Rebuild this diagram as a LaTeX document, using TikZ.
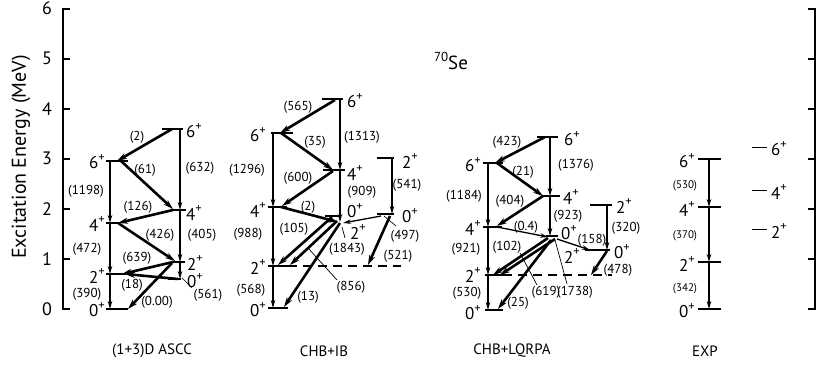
\documentclass[tikz,border=0pt]{standalone}
\usepackage{fontspec}
\setmainfont{PT Sans}
\usetikzlibrary{arrows.meta}
\newcommand\lvtxt[1]{#1\raisebox{0.42em}{\fontsize{12.5}{12.5}\selectfont +}}
\begin{document}
\begin{tikzpicture}[x=1pt,y=-1pt,
  lvl/.style={line width=1.4pt},
  dlvl/.style={line width=1.4pt, dash pattern=on 9pt off 6pt},
  vt/.style={line width=1.8pt, -{Stealth[length=8pt,width=4.5pt]}},
  dg/.style={line width=2.6pt, -{Stealth[length=10pt,width=6pt]}},
  md/.style={line width=1.3pt, -{Stealth[length=8pt,width=4.5pt]}},
  ld/.style={line width=0.7pt},
  lab/.style={font=\fontsize{13}{13}\selectfont, inner sep=0pt},
  elab/.style={font=\fontsize{11}{11}\selectfont, inner sep=0pt},
  st/.style={font=\fontsize{17}{17}\selectfont, inner sep=0pt},
  stR/.style={st, anchor=west},
  stL/.style={st, anchor=east},
  ax/.style={line width=2pt},
  axn/.style={font=\fontsize{18}{18}\selectfont, inner sep=0pt},
  bl/.style={font=\fontsize{15}{15}\selectfont, inner sep=0pt}
]
\useasboundingbox (0,0) rectangle (817,370);

% ---------- axes ----------
\path (70,8.5) coordinate (la6) (63,8.5) coordinate (lb6) (63,309) coordinate (lb0) (70,309) coordinate (la0);
\draw[ax] (la6) -- (lb6) -- (lb0) -- (la0);
\path (808,8.5) coordinate (ra6) (815,8.5) coordinate (rb6) (815,309) coordinate (rb0) (808,309) coordinate (ra0);
\draw[ax] (ra6) -- (rb6) -- (rb0) -- (ra0);
\foreach \e in {1,...,5}{
  \path (63,309-50.08*\e) coordinate (lt\e) (70,309-50.08*\e) coordinate (ltt\e)
        (815,309-50.08*\e) coordinate (rt\e) (808,309-50.08*\e) coordinate (rtt\e);
  \draw[ax] (lt\e) -- (ltt\e);
  \draw[ax] (rt\e) -- (rtt\e);
}
\foreach \e in {0,...,6}{
  \node[axn] (n\e) at (47,309-50.08*\e) {\e};
}
\node[font=\fontsize{20}{20}\selectfont, rotate=90, inner sep=0pt] (ytitle) at (21,157) {Excitation Energy (MeV)};
\node[font=\fontsize{19}{19}\selectfont, inner sep=0pt] (title) at (451,61) {\raisebox{0.45em}{\fontsize{13}{13}\selectfont 70}Se};

% ---------- panel 1: (1+3)D ASCC ----------
\path (162,129) coordinate (a6Rl) (183,129) coordinate (a6Rr)
      (106,161) coordinate (a6Ll) (128,161) coordinate (a6Lr)
      (170,210) coordinate (a4Rl) (186,210) coordinate (a4Rr)
      (106,223) coordinate (a4Ll) (120,223) coordinate (a4Lr)
      (172,262) coordinate (a2Rl) (185,262) coordinate (a2Rr)
      (168,279) coordinate (a0Rl) (181,279) coordinate (a0Rr)
      (106,274) coordinate (a2Ll) (126,274) coordinate (a2Lr)
      (106,309) coordinate (a0l)  (128,309) coordinate (a0r);
\foreach \p in {a6R,a6L,a4R,a4L,a2R,a0R,a2L,a0}{\draw[lvl] (\p l) -- (\p r);}
\path (180,129) coordinate (a6Rc) (180,210) coordinate (a4Rc) (180,262) coordinate (a2Rc) (180,279) coordinate (a0Rc)
      (110,161) coordinate (a6Lc) (110,223) coordinate (a4Lc) (110,274) coordinate (a2Lc) (110,309) coordinate (a0c);
\draw[vt] (a6Rc) -- (a4Rc);
\draw[vt] (a4Rc) -- (a2Rc);
\draw[vt] (a2Rc) -- (a0Rc);
\draw[vt] (a6Lc) -- (a4Lc);
\draw[vt] (a4Lc) -- (a2Lc);
\draw[vt] (a2Lc) -- (a0c);
\path (172,129) coordinate (p1a) (117,161) coordinate (p1b)
      (121,161) coordinate (p2a) (173,209) coordinate (p2b)
      (173,210) coordinate (p3a) (118,223) coordinate (p3b)
      (118,223) coordinate (p4a) (175,261) coordinate (p4b)
      (173,262) coordinate (p5a) (122,274) coordinate (p5b)
      (178,279) coordinate (p6a) (125,274) coordinate (p6b)
      (172,263) coordinate (p7a) (128,309) coordinate (p7b)
      (182,278) coordinate (q1a) (192,288) coordinate (q1b);
\draw[dg] (p1a) -- (p1b);
\draw[dg] (p2a) -- (p2b);
\draw[dg] (p3a) -- (p3b);
\draw[dg] (p4a) -- (p4b);
\draw[dg] (p5a) -- (p5b);
\draw[dg] (p6a) -- (p6b);
\draw[dg] (p7a) -- (p7b);
\draw[ld] (q1a) -- (q1b);
\node[stR] (sa6R) at (186,131) {\lvtxt{6}};
\node[stR] (sa4R) at (186,213) {\lvtxt{4}};
\node[stR] (sa2R) at (187,263) {\lvtxt{2}};
\node[stR] (sa0R) at (187,281) {\lvtxt{0}};
\node[stL] (sa6L) at (105,162) {\lvtxt{6}};
\node[stL] (sa4L) at (105,224) {\lvtxt{4}};
\node[stL] (sa2L) at (105,276) {\lvtxt{2}};
\node[stL] (sa0L) at (105,310) {\lvtxt{0}};
\node[lab] (ta1) at (137,137) {(2)};
\node[lab] (ta2) at (145,170) {(61)};
\node[lab] (ta3) at (200,168) {(632)};
\node[lab] (ta4) at (86,191) {(1198)};
\node[lab] (ta5) at (138,207) {(126)};
\node[lab] (ta6) at (160,235) {(426)};
\node[lab] (ta7) at (202,235) {(405)};
\node[lab] (ta8) at (87,249) {(472)};
\node[lab] (ta9) at (137,258) {(639)};
\node[lab] (ta10) at (132,285) {(18)};
\node[lab] (ta11) at (87,294) {(390)};
\node[lab] (ta12) at (157,302) {(0.00)};
\node[lab] (ta13) at (208,295) {(561)};

% ---------- panel 2: CHB+IB ----------
\path (322,99) coordinate (b6Tl) (343,99) coordinate (b6Tr)
      (271,133) coordinate (b6Ll) (293,133) coordinate (b6Lr)
      (323,170) coordinate (b4Ml) (345,170) coordinate (b4Mr)
      (377,158) coordinate (b2Rl) (394,158) coordinate (b2Rr)
      (268,207) coordinate (b4Ll) (287,207) coordinate (b4Lr)
      (325,216) coordinate (b0Ml) (341,216) coordinate (b0Mr)
      (377,214) coordinate (b0Rl) (394,214) coordinate (b0Rr)
      (268,266) coordinate (b2Ll) (288,266) coordinate (b2Lr) (401,266) coordinate (b2Ld)
      (268,308) coordinate (b0l) (288,308) coordinate (b0r);
\foreach \p in {b6T,b6L,b4M,b2R,b4L,b0M,b0R,b2L,b0}{\draw[lvl] (\p l) -- (\p r);}
\draw[dlvl] (b2Lr) -- (b2Ld);
\path (340,99) coordinate (b1a) (340,170) coordinate (b1b) (340,222) coordinate (b1c)
      (273,133) coordinate (b2a) (273,207) coordinate (b2b) (273,266) coordinate (b2c) (273,308) coordinate (b2d)
      (392,158) coordinate (b3a) (392,214) coordinate (b3b);
\draw[vt] (b1a) -- (b1b);
\draw[vt] (b1b) -- (b1c);
\draw[vt] (b2a) -- (b2b);
\draw[vt] (b2b) -- (b2c);
\draw[vt] (b2c) -- (b2d);
\draw[vt] (b3a) -- (b3b);
\path (335,100) coordinate (r1a) (280,133) coordinate (r1b)
      (281,133) coordinate (r2a) (333,170) coordinate (r2b)
      (333,171) coordinate (r3a) (282,206) coordinate (r3b)
      (281,207) coordinate (r4a) (338,222) coordinate (r4b)
      (332,217) coordinate (r5a) (278,265) coordinate (r5b)
      (337,221) coordinate (r6a) (290,265) coordinate (r6b)
      (340,223) coordinate (r7a) (284,307) coordinate (r7b)
      (381,216) coordinate (r8a) (343,223) coordinate (r8b)
      (390,216) coordinate (r9a) (368,265) coordinate (r9b)
      (308,248) coordinate (s1a) (337,280) coordinate (s1b)
      (342,227) coordinate (s2a) (345,238) coordinate (s2b)
      (384,216) coordinate (s3a) (396,226) coordinate (s3b);
\draw[dg] (r1a) -- (r1b);
\draw[dg] (r2a) -- (r2b);
\draw[dg] (r3a) -- (r3b);
\draw[dg] (r4a) -- (r4b);
\draw[dg] (r5a) -- (r5b);
\draw[dg] (r6a) -- (r6b);
\draw[dg] (r7a) -- (r7b);
\draw[md] (r8a) -- (r8b);
\draw[dg] (r9a) -- (r9b);
\draw[ld] (s1a) -- (s1b);
\draw[ld] (s2a) -- (s2b);
\draw[ld] (s3a) -- (s3b);
\node[stR] (sb6T) at (347,101) {\lvtxt{6}};
\node[stR] (sb4M) at (347,173) {\lvtxt{4}};
\node[stR] (sb2R) at (402,161) {\lvtxt{2}};
\node[stR] (sb0M) at (347,211) {\lvtxt{0}};
\node[stR] (sb0R) at (402,216) {\lvtxt{0}};
\node[stR] (sb2M) at (350,232) {\lvtxt{2}};
\node[stL] (sb6L) at (266,135) {\lvtxt{6}};
\node[stL] (sb4L) at (266,210) {\lvtxt{4}};
\node[stL] (sb2L) at (266,267) {\lvtxt{2}};
\node[stL] (sb0L) at (266,310) {\lvtxt{0}};
\node[lab] (tb1) at (298,107) {(565)};
\node[lab] (tb2) at (362,137) {(1313)};
\node[lab] (tb3) at (315,142) {(35)};
\node[lab] (tb4) at (247,170) {(1296)};
\node[lab] (tb5) at (298,178) {(600)};
\node[lab] (tb6) at (362,192) {(909)};
\node[lab] (tb7) at (407,185) {(541)};
\node[lab] (tb8) at (308,207) {(2)};
\node[lab] (tb9) at (248,234) {(988)};
\node[lab] (tb10) at (294,229) {(105)};
\node[lab] (tb11) at (347,249) {(1843)};
\node[lab] (tb12) at (398,256) {(521)};
\node[lab] (tb13) at (351,287) {(856)};
\node[lab] (tb14) at (308,297) {(13)};
\node[lab] (tb15) at (251,290) {(568)};
\node[lab] (tb16) at (405,236) {(497)};

% ---------- panel 3: CHB+LQRPA ----------
\path (537,137) coordinate (c6Tl) (558,137) coordinate (c6Tr)
      (483,163) coordinate (c6Ll) (503,163) coordinate (c6Lr)
      (542,196) coordinate (c4Ml) (560,196) coordinate (c4Mr)
      (590,205) coordinate (c2Rl) (612,205) coordinate (c2Rr)
      (483,227) coordinate (c4Ll) (502,227) coordinate (c4Lr)
      (546,236) coordinate (c0Ml) (558,236) coordinate (c0Mr)
      (585,250) coordinate (c0Rl) (610,250) coordinate (c0Rr)
      (485,275) coordinate (c2Ll) (503,275) coordinate (c2Lr) (612,275) coordinate (c2Ld)
      (485,310) coordinate (c0l) (503,310) coordinate (c0r);
\foreach \p in {c6T,c6L,c4M,c2R,c4L,c0M,c0R,c2L,c0}{\draw[lvl] (\p l) -- (\p r);}
\draw[dlvl] (c2Lr) -- (c2Ld);
\path (550,137) coordinate (c1a) (550,196) coordinate (c1b) (550,236) coordinate (c1c)
      (488,163) coordinate (c2a) (488,227) coordinate (c2b) (488,275) coordinate (c2c) (488,310) coordinate (c2d)
      (607,205) coordinate (c3a) (607,250) coordinate (c3b);
\draw[vt] (c1a) -- (c1b);
\draw[vt] (c1b) -- (c1c);
\draw[vt] (c2a) -- (c2b);
\draw[vt] (c2b) -- (c2c);
\draw[vt] (c2c) -- (c2d);
\draw[vt] (c3a) -- (c3b);
\path (545,137) coordinate (u1a) (495,163) coordinate (u1b)
      (497,163) coordinate (u2a) (543,196) coordinate (u2b)
      (543,196) coordinate (u3a) (497,226) coordinate (u3b)
      (497,227) coordinate (u4a) (548,237) coordinate (u4b)
      (548,238) coordinate (u5a) (493,275) coordinate (u5b)
      (555,239) coordinate (u6a) (500,275) coordinate (u6b)
      (551,240) coordinate (u7a) (498,309) coordinate (u7b)
      (557,239) coordinate (u8a) (590,250) coordinate (u8b)
      (607,251) coordinate (u9a) (591,275) coordinate (u9b)
      (520,253) coordinate (v1a) (537,285) coordinate (v1b)
      (555,240) coordinate (v2a) (567,284) coordinate (v2b);
\draw[dg] (u1a) -- (u1b);
\draw[dg] (u2a) -- (u2b);
\draw[dg] (u3a) -- (u3b);
\draw[md] (u4a) -- (u4b);
\draw[dg] (u5a) -- (u5b);
\draw[dg] (u6a) -- (u6b);
\draw[dg] (u7a) -- (u7b);
\draw[md] (u8a) -- (u8b);
\draw[dg] (u9a) -- (u9b);
\draw[ld] (v1a) -- (v1b);
\draw[ld] (v2a) -- (v2b);
\node[stR] (sc6T) at (564,139) {\lvtxt{6}};
\node[stR] (sc4M) at (563,197) {\lvtxt{4}};
\node[stR] (sc2R) at (616,206) {\lvtxt{2}};
\node[stR] (sc0M) at (561,233) {\lvtxt{0}};
\node[stR] (sc0R) at (614,252) {\lvtxt{0}};
\node[stR] (sc2M) at (564,256) {\lvtxt{2}};
\node[stL] (sc6L) at (481,165) {\lvtxt{6}};
\node[stL] (sc4L) at (481,228) {\lvtxt{4}};
\node[stL] (sc2L) at (481,275) {\lvtxt{2}};
\node[stL] (sc0L) at (481,313) {\lvtxt{0}};
\node[lab] (tc1) at (507,142) {(423)};
\node[lab] (tc2) at (576,165) {(1376)};
\node[lab] (tc3) at (523,172) {(21)};
\node[lab] (tc4) at (464,196) {(1184)};
\node[lab] (tc5) at (510,201) {(404)};
\node[lab] (tc6) at (568,216) {(923)};
\node[lab] (tc7) at (526,227) {(0.4)};
\node[lab] (tc8) at (466,249) {(921)};
\node[lab] (tc9) at (507,247) {(102)};
\node[lab] (tc10) at (467,293) {(530)};
\node[lab] (tc11) at (546,292) {(619)};
\node[lab] (tc12) at (575,292) {(1738)};
\node[lab] (tc13) at (518,303) {(25)};
\node[lab] (tc14) at (592,240) {(158)};
\node[lab] (tc15) at (626,228) {(320)};
\node[lab] (tc16) at (618,270) {(478)};

% ---------- panel 4: EXP ----------
\path (698,159) coordinate (d6l) (721,159) coordinate (d6r)
      (698,207) coordinate (d4l) (721,207) coordinate (d4r)
      (698,262) coordinate (d2l) (721,262) coordinate (d2r)
      (698,309) coordinate (d0l) (721,309) coordinate (d0r);
\foreach \p in {d6,d4,d2,d0}{\draw[lvl] (\p l) -- (\p r);}
\path (709,159) coordinate (dc6) (709,207) coordinate (dc4) (709,262) coordinate (dc2) (709,309) coordinate (dc0);
\draw[vt] (dc6) -- (dc4);
\draw[vt] (dc4) -- (dc2);
\draw[vt] (dc2) -- (dc0);
\node[stL] (sd6) at (695,161) {\lvtxt{6}};
\node[stL] (sd4) at (695,209) {\lvtxt{4}};
\node[stL] (sd2) at (695,264) {\lvtxt{2}};
\node[stL] (sd0) at (695,311) {\lvtxt{0}};
\node[elab] (td1) at (685,186) {(530)};
\node[elab] (td2) at (685,236) {(370)};
\node[elab] (td3) at (685,289) {(342)};

\path (752,147) coordinate (e6l) (767,147) coordinate (e6r)
      (752,190) coordinate (e4l) (767,190) coordinate (e4r)
      (752,229) coordinate (e2l) (767,229) coordinate (e2r);
\foreach \p in {e6,e4,e2}{\draw[line width=0.9pt] (\p l) -- (\p r);}
\node[stR] (se6) at (771,149) {\lvtxt{6}};
\node[stR] (se4) at (771,192) {\lvtxt{4}};
\node[stR] (se2) at (771,231) {\lvtxt{2}};

% ---------- bottom labels ----------
\node[bl] (bl1) at (152,351) {(1+3)D ASCC};
\node[bl] (bl2) at (324,351) {CHB+IB};
\node[bl] (bl3) at (512,351) {CHB+LQRPA};
\node[bl] (bl4) at (705,351) {EXP};
\end{tikzpicture}
\end{document}
